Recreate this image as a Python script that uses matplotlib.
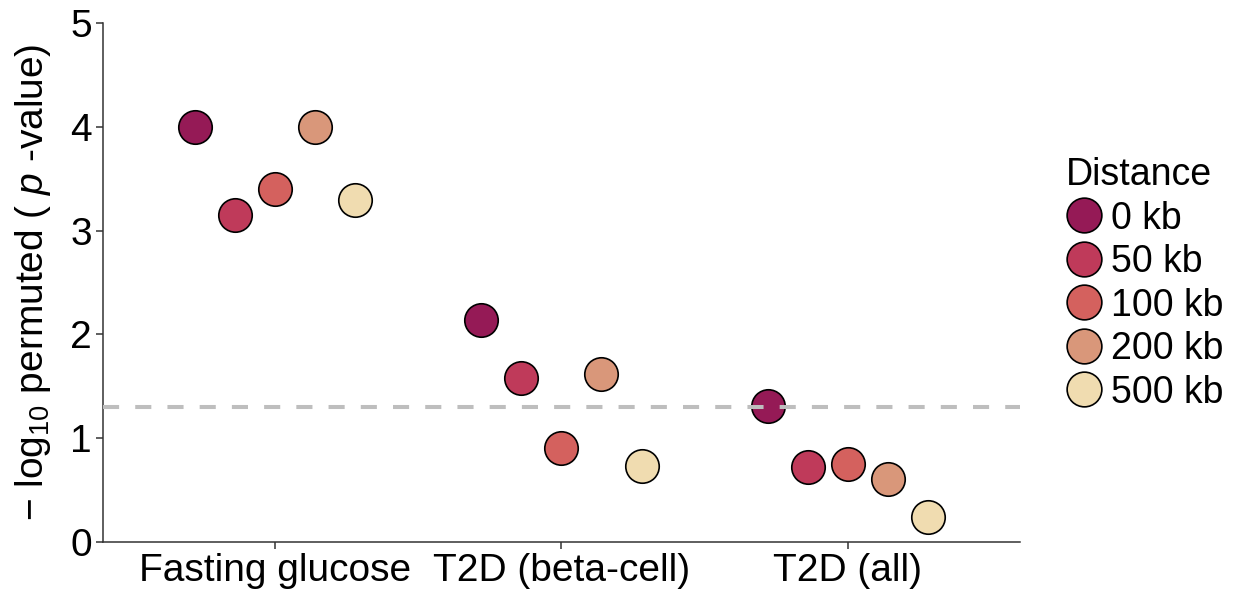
import matplotlib
matplotlib.use("Agg")
import matplotlib.pyplot as plt
import numpy as np
from matplotlib.lines import Line2D

plt.rcParams['font.family'] = ['Liberation Sans', 'DejaVu Sans']
plt.rcParams['mathtext.fontset'] = 'custom'
plt.rcParams['mathtext.rm'] = 'Liberation Sans'
plt.rcParams['mathtext.it'] = 'Liberation Sans:italic'

categories = ["Fasting glucose", "T2D (beta-cell)", "T2D (all)"]
distances = ["0 kb", "50 kb", "100 kb", "200 kb", "500 kb"]
colors = ["#951A56", "#BF3A5A", "#D4615E", "#D9977A", "#F0DCB0"]
values_0kb = [4.00, 2.14, 1.31]
values_50kb = [3.15, 1.58, 0.72]
values_100kb = [3.40, 0.91, 0.75]
values_200kb = [4.00, 1.62, 0.61]
values_500kb = [3.30, 0.73, 0.24]
series = [values_0kb, values_50kb, values_100kb, values_200kb, values_500kb]
threshold = -np.log10(0.05)

fig = plt.figure(figsize=(12.39, 5.92), dpi=100)
ax = fig.add_axes([0.0831, 0.0845, 0.823 - 0.0831, 0.961 - 0.0845])

dodge = 0.7
n = len(distances)
xs = np.arange(1, len(categories) + 1)
for j, (vals, col, lab) in enumerate(zip(series, colors, distances)):
    off = (j - (n - 1) / 2) * dodge / n
    ax.scatter(xs + off, vals, s=580, c=col, edgecolors='black', linewidths=1.2,
               zorder=3, label=lab)

ax.axhline(threshold, color='#BEBEBE', lw=2.9, dashes=(4, 4), zorder=4)

ax.set_xlim(0.4, 3.6)
ax.set_ylim(0, 5)
ax.set_xticks(xs)
ax.set_xticklabels(categories, fontsize=28)
ax.set_yticks([0, 1, 2, 3, 4, 5])
ax.set_yticklabels(['0', '1', '2', '3', '4', '5'], fontsize=28)
for s in ['top', 'right']:
    ax.spines[s].set_visible(False)
for s in ['left', 'bottom']:
    ax.spines[s].set_color('#333333')
    ax.spines[s].set_linewidth(1.1)
ax.tick_params(axis='both', colors='#333333', length=5, width=1.1, labelcolor='black', pad=3)
ax.set_ylabel('− log$_{10}$ permuted ( $\\it{p}$ -value)', fontsize=28, labelpad=12)

handles = [Line2D([], [], marker='o', ls='', markersize=25, markerfacecolor=c,
                  markeredgecolor='black', markeredgewidth=1.2) for c in colors]
leg = fig.legend(handles, distances, title='Distance', loc='upper left',
                 bbox_to_anchor=(0.848, 0.76), frameon=False, fontsize=27,
                 title_fontsize=27, handletextpad=0.2, labelspacing=0.2,
                 borderaxespad=0, handlelength=1.0)
leg._legend_box.align = 'left'

fig.savefig('out.png', dpi=100)
